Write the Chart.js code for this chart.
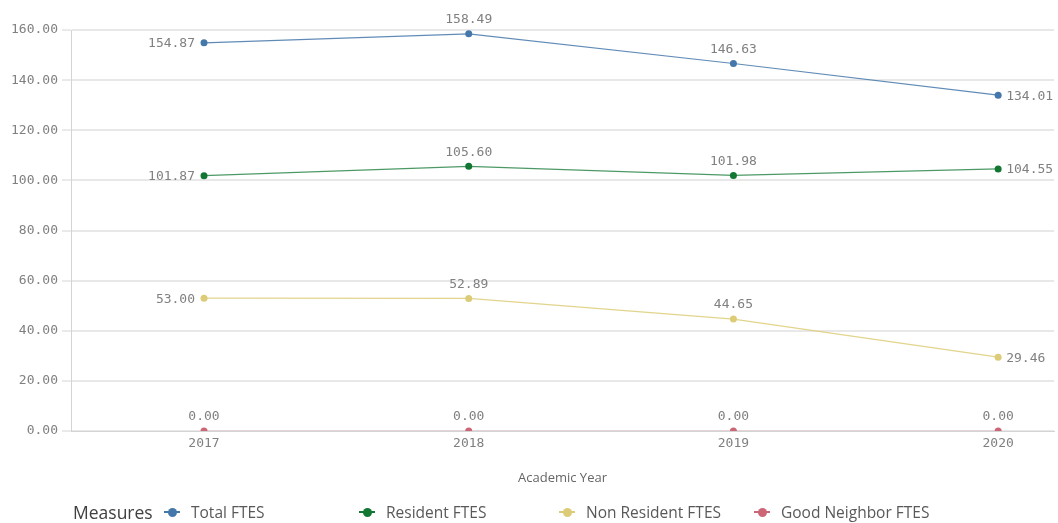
<!DOCTYPE html>
<html>
<head>
<meta charset="utf-8">
<script src="https://cdn.jsdelivr.net/npm/chart.js@4.4.1/dist/chart.umd.min.js"></script>
<style>
  html, body { margin: 0; padding: 0; background: #fff; }
  #wrap { position: relative; width: 1058px; height: 523px; }
  #legend { position: absolute; left: 0; top: 499px; width: 1058px; height: 24px;
            font-family: "Open Sans", sans-serif; color: #595959; font-size: 15.5px; white-space: nowrap; }
  #legend .title { position: absolute; left: 73px; top: 1px; font-size: 17.5px; color: #404040; }
  #legend .item { position: absolute; top: 2px; display: flex; align-items: center; }
  #legend .sym { position: relative; width: 16px; height: 10px; margin-right: 11px; }
  #legend .sym .ln { position: absolute; left: 0; top: 4px; width: 16px; height: 2px; }
  #legend .sym .dt { position: absolute; left: 3.5px; top: 0.5px; width: 9px; height: 9px; border-radius: 50%; }
</style>
</head>
<body>
<div id="wrap">
  <canvas id="chart" width="1058" height="523"></canvas>
  <div id="legend"></div>
</div>
<script>
const years = [2017, 2018, 2019, 2020];
const totalFtes = [154.87, 158.49, 146.63, 134.01];
const residentFtes = [101.87, 105.60, 101.98, 104.55];
const nonResidentFtes = [53.00, 52.89, 44.65, 29.46];
const goodNeighborFtes = [0, 0, 0, 0];
const yTicks = [0, 20, 40, 60, 80, 100, 120, 140, 160];

const seriesNames = ['Total FTES', 'Resident FTES', 'Non Resident FTES', 'Good Neighbor FTES'];
const seriesData = [totalFtes, residentFtes, nonResidentFtes, goodNeighborFtes];
const pointColors = ['#4477aa', '#117733', '#ddcc77', '#cc6677'];
const lineColors = ['rgba(68,119,170,0.85)', 'rgba(17,119,51,0.75)', 'rgba(221,204,119,0.85)', 'rgba(204,102,119,0.3)'];
const legendLeft = [164, 359, 559, 754];

const monoFont = '"DejaVu Sans Mono", monospace';

// labels next to points: first on the left, last on the right, the rest above
const valueLabels = {
    id: 'valueLabels',
    afterDatasetsDraw(chart) {
        const ctx = chart.ctx;
        ctx.save();
        ctx.font = '13px ' + monoFont;
        ctx.fillStyle = '#808080';
        ctx.textBaseline = 'middle';
        chart.data.datasets.forEach((ds, i) => {
            const meta = chart.getDatasetMeta(i);
            meta.data.forEach((pt, j) => {
                const txt = ds.data[j].y.toFixed(2);
                const allZero = ds.data.every(d => d.y === 0);
                if (allZero || (j > 0 && j < ds.data.length - 1)) {
                    ctx.textAlign = 'center';
                    ctx.fillText(txt, pt.x, pt.y - 14);
                } else if (j === 0) {
                    ctx.textAlign = 'right';
                    ctx.fillText(txt, pt.x - 9, pt.y + 1);
                } else {
                    ctx.textAlign = 'left';
                    ctx.fillText(txt, pt.x + 8, pt.y + 1);
                }
            });
        });
        ctx.restore();
    }
};

const ctx = document.getElementById('chart').getContext('2d');
const myChart = new Chart(ctx, {
    type: 'line',
    data: {
        datasets: seriesNames.map((name, i) => ({
            label: name,
            data: years.map((yr, j) => ({ x: yr, y: seriesData[i][j] })),
            borderColor: lineColors[i],
            backgroundColor: pointColors[i],
            pointBackgroundColor: pointColors[i],
            pointBorderWidth: 0,
            pointRadius: 3.5,
            borderWidth: 1.2,
            tension: 0
        }))
    },
    options: {
        responsive: false,
        animation: false,
        layout: { padding: { top: 30, right: 1, bottom: 36, left: 0 } },
        plugins: {
            legend: { display: false },
            tooltip: { enabled: false }
        },
        scales: {
            x: {
                type: 'linear',
                min: 2016.4975,
                max: 2020.211,
                afterBuildTicks: s => { s.ticks = years.map(v => ({ value: v })); },
                afterFit: s => { s.height = 56; },
                ticks: {
                    callback: v => String(v),
                    color: '#808080',
                    font: { family: monoFont, size: 13 },
                    padding: -3,
                    maxRotation: 0
                },
                grid: { display: false },
                border: { display: true, color: '#d4d4d4', width: 1 },
                title: {
                    display: true,
                    text: 'Academic Year',
                    color: '#666',
                    font: { family: '"Open Sans", sans-serif', size: 13 },
                    padding: { top: 4, bottom: 1 }
                }
            },
            y: {
                min: 0,
                max: 160,
                afterBuildTicks: s => { s.ticks = yTicks.map(v => ({ value: v })); },
                afterFit: s => { s.width = 71; },
                ticks: {
                    callback: v => v.toFixed(2),
                    color: '#808080',
                    font: { family: monoFont, size: 13 },
                    padding: 4
                },
                grid: { color: '#e8e8e8', lineWidth: 2, tickLength: 9, tickColor: '#d4d4d4', tickWidth: 1 },
                border: { display: true, color: '#d4d4d4', width: 1 }
            }
        }
    },
    plugins: [valueLabels]
});

// legend
const legend = document.getElementById('legend');
legend.innerHTML = '<span class="title">Measures</span>' + seriesNames.map((name, i) =>
    `<span class="item" style="left:${legendLeft[i]}px"><span class="sym"><span class="ln" style="background:${pointColors[i]}"></span>` +
    `<span class="dt" style="background:${pointColors[i]}"></span></span>${name}</span>`).join('');
</script>
</body>
</html>
